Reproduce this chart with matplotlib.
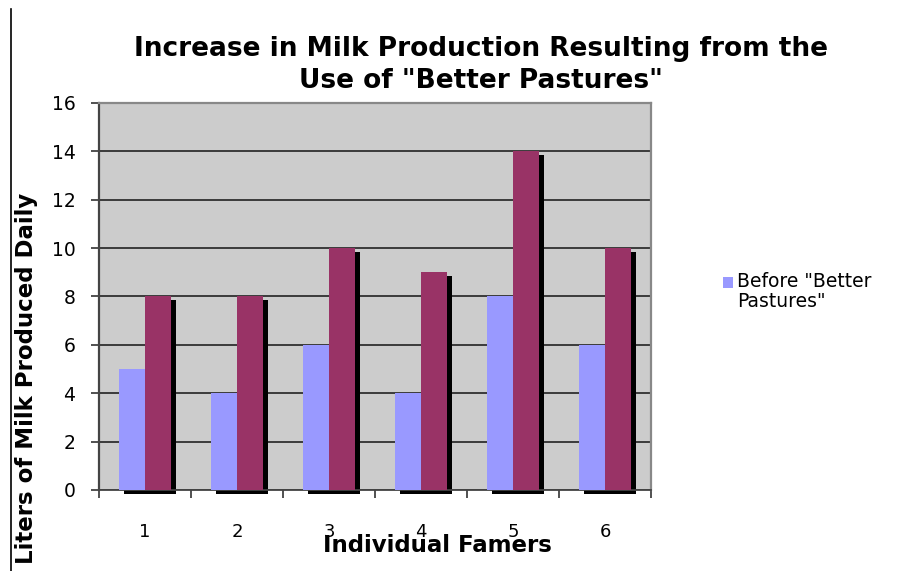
import matplotlib.pyplot as plt
from matplotlib.lines import Line2D
from matplotlib.patches import Rectangle
from matplotlib.transforms import offset_copy

farmers = ["1", "2", "3", "4", "5", "6"]
before = [5, 4, 6, 4, 8, 6]
after = [8, 8, 10, 9, 14, 10]
y_ticks = [0, 2, 4, 6, 8, 10, 12, 14, 16]

BLUE = "#9999FF"
MAROON = "#993366"

fig = plt.figure(figsize=(9.2, 5.71), dpi=100)
ax = fig.add_axes([0.1076, 0.1419, 0.6, 0.6778])
ax.set_facecolor("#CCCCCC")

x = list(range(len(farmers)))
w = 0.283

# black drop shadows, shifted a few pixels right and down
shadow_tr = offset_copy(ax.transData, fig=fig, x=5, y=-4, units="dots")
for vals, off in ((before, -w / 2), (after, w / 2)):
    ax.bar([i + off for i in x], vals, width=w, color="black",
           transform=shadow_tr, zorder=2, clip_on=False, linewidth=0)

ax.bar([i - w / 2 for i in x], before, width=w, color=BLUE, zorder=3, linewidth=0)
ax.bar([i + w / 2 for i in x], after, width=w, color=MAROON, zorder=3, linewidth=0)

ax.set_xlim(-0.5, 5.5)
ax.set_ylim(0, 16)
ax.set_yticks(y_ticks)
ax.yaxis.grid(True, color="#222222", linewidth=1.2)
ax.set_axisbelow(True)

# ticks at the category boundaries, labels at the centres
ax.set_xticks([i - 0.5 for i in range(len(farmers) + 1)])
ax.set_xticklabels([])
ax.set_xticks(x, minor=True)
ax.set_xticklabels(farmers, minor=True, fontsize=13)
ax.tick_params(axis="x", which="minor", length=0, pad=24)
ax.tick_params(axis="x", which="major", length=6, width=1.2, color="#333333")
ax.tick_params(axis="y", length=6, width=1.2, color="#333333", labelsize=13.5, pad=11)

ax.spines["left"].set_color("#444444")
ax.spines["left"].set_linewidth(1.6)
ax.spines["bottom"].set_color("#444444")
ax.spines["bottom"].set_linewidth(1.3)
ax.spines["top"].set_color("#888888")
ax.spines["top"].set_linewidth(1.6)
ax.spines["right"].set_color("#888888")
ax.spines["right"].set_linewidth(1.6)

fig.text(0.523, 0.886, 'Increase in Milk Production Resulting from the\nUse of "Better Pastures"',
         ha="center", va="center", fontsize=19, fontweight="bold", linespacing=1.3)
fig.text(0.476, 0.045, "Individual Famers", ha="center", va="center",
         fontsize=16.5, fontweight="bold")
fig.text(0.029, 0.338, "Liters of Milk Produced Daily", ha="center", va="center",
         rotation=90, fontsize=16.5, fontweight="bold")

# legend key: swatch sits beside the first line of the label
fig.add_artist(Rectangle((0.786, 0.4956), 0.0109, 0.0193, facecolor=BLUE,
                         edgecolor="none", transform=fig.transFigure))
fig.text(0.801, 0.523, 'Before "Better\nPastures"', ha="left", va="top",
         fontsize=13.5, linespacing=1.05)

# left border line
fig.add_artist(Line2D([0.012, 0.012], [0.0, 0.985], color="black", linewidth=1.2,
                      transform=fig.transFigure))

fig.savefig("out.png", dpi=100)
